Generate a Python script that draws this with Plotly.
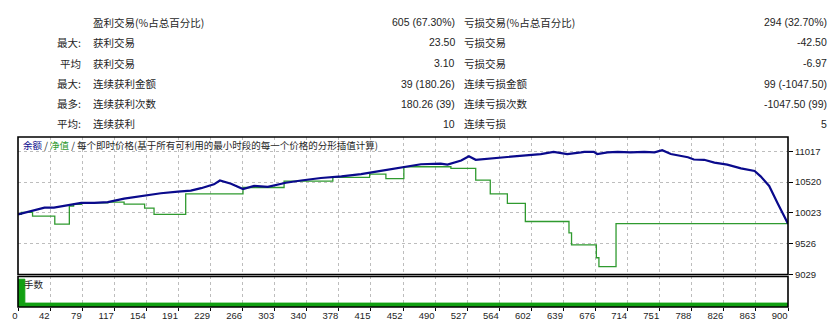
import plotly.graph_objects as go

# ---------------- data ----------------
balance_trades = [0, 19, 31, 42, 54, 65, 74, 89, 105, 124, 147, 167, 187, 202, 214, 229, 236,
                  249, 263, 276, 292, 313, 331, 354, 378, 401, 424, 448, 471, 494, 502, 518, 527,
                  535, 549, 568, 588, 611, 626, 642, 658, 662, 673, 677, 689, 701, 716, 732, 744,
                  753, 763, 783, 790, 802, 814, 829, 845, 861, 868, 878, 888, 900]
balance_values = [10000, 10074, 10109, 10109, 10135, 10160, 10186, 10186, 10197, 10253, 10305, 10340,
                  10367, 10382, 10422, 10484, 10546, 10495, 10407, 10459, 10444, 10510, 10546, 10587,
                  10613, 10649, 10700, 10752, 10808, 10819, 10803, 10869, 10937, 10880, 10896, 10922,
                  10947, 10973, 11009, 10973, 10999, 11009, 11009, 10973, 10999, 11009, 10999, 11009,
                  10999, 11035, 10973, 10922, 10885, 10880, 10834, 10803, 10742, 10700, 10613, 10459,
                  10176, 9848]

equity_trades = [0, 4, 17, 43, 60, 65, 74, 89, 105, 124, 148, 159, 196, 263, 311, 368, 411, 430,
                 451, 506, 535, 552, 572, 593, 644, 647, 676, 679, 699, 900]
equity_values = [10000, 10032, 9970, 9842, 10135, 10160, 10186, 10186, 10197, 10165, 10100, 10000,
                 10330, 10433, 10536, 10598, 10649, 10577, 10768, 10742, 10552, 10330, 10176, 9885,
                 9700, 9507, 9300, 9157, 9850, 9850]

# lot-size blocks: start trade, end trade, lot size
lot_starts = [0, 8]
lot_ends = [8, 900]
lot_sizes = [1.0, 0.14]

x_tick_labels = ["0", "42", "79", "117", "154", "191", "229", "266", "303", "340", "378", "415",
                 "452", "490", "527", "564", "602", "639", "676", "714", "751", "788", "826",
                 "863", "900"]
y_tick_values = [9029, 9526, 10023, 10520, 11017]

row_prefixes = ["", "最大:", "平均", "最大:", "最多:", "平均:"]
win_labels = ["盈利交易(%占总百分比)", "获利交易", "获利交易", "连续获利金额", "连续获利次数", "连续获利"]
win_values = ["605 (67.30%)", "23.50", "3.10", "39 (180.26)", "180.26 (39)", "10"]
loss_labels = ["亏损交易(%占总百分比)", "亏损交易", "亏损交易", "连续亏损金额", "连续亏损次数", "连续亏损"]
loss_values = ["294 (32.70%)", "-42.50", "-6.97", "99 (-1047.50)", "-1047.50 (99)", "5"]

chart_title_parts = ["余额", "净值", "每个即时价格(基于所有可利用的最小时段的每一个价格的分形插值计算)"]
volume_label = "手数"

# ---------------- layout geometry (pixels) ----------------
W, H = 840, 333
PL, PR, PT, PB = 17, 788, 137, 315     # plot area
MAIN_BOTTOM = 281
VOL_TOP = 283
N_TRADES = 900
N_GRID = len(x_tick_labels) - 1

def fx(px):
    return (px - PL) / (PR - PL)

def fy(py):
    return (PB - py) / (PB - PT)

BAL_COLOR = "#0a0a8c"
EQ_COLOR = "#2f9a2f"
LOT_COLOR = "#12a012"
TEXT = "#1e1e1e"
CJK = "Noto Sans CJK SC"
NUM = "Liberation Sans, Noto Sans CJK SC"
GRID = "#bdbdbd"

fig = go.Figure()

fig.add_trace(go.Scatter(x=equity_trades, y=equity_values, mode="lines",
                         line=dict(color=EQ_COLOR, width=1.3, shape="hv"),
                         xaxis="x2", yaxis="y2", hoverinfo="skip"))
fig.add_trace(go.Scatter(x=balance_trades, y=balance_values, mode="lines",
                         line=dict(color=BAL_COLOR, width=2.2),
                         xaxis="x2", yaxis="y2", hoverinfo="skip"))
# lot blocks drawn as filled rectangles through the lot axis
for a, b, v in zip(lot_starts, lot_ends, lot_sizes):
    fig.add_trace(go.Scatter(x=[a, a, b, b, a], y=[0, v, v, 0, 0], mode="lines",
                             fill="toself", fillcolor=LOT_COLOR,
                             line=dict(color=LOT_COLOR, width=1),
                             xaxis="x", yaxis="y", hoverinfo="skip"))

tickvals = [i * N_TRADES / N_GRID for i in range(N_GRID + 1)]

main_dom = [fy(MAIN_BOTTOM), 1.0]
vol_dom = [0.0, fy(VOL_TOP)]

fig.update_layout(
    width=W, height=H,
    margin=dict(l=PL, r=W - PR, t=PT, b=H - PB, pad=0),
    paper_bgcolor="white", plot_bgcolor="white",
    showlegend=False,
    xaxis=dict(domain=[0, 1], anchor="y", range=[0, N_TRADES],
               tickvals=tickvals, ticktext=x_tick_labels,
               ticks="outside", ticklen=3, tickcolor="#000", tickwidth=1,
               ticklabelposition="outside left",
               tickfont=dict(family=NUM, size=9.5, color=TEXT),
               showgrid=True, gridcolor=GRID, griddash="3px,3px", gridwidth=1,
               zeroline=False, showline=False),
    xaxis2=dict(domain=[0, 1], anchor="y2", range=[0, N_TRADES], matches="x",
                tickvals=tickvals, showticklabels=False, ticks="",
                showgrid=True, gridcolor=GRID, griddash="3px,3px", gridwidth=1,
                zeroline=False, showline=False),
    yaxis=dict(domain=vol_dom, anchor="x", range=[0, 1.1],
               showticklabels=False, showgrid=False, zeroline=False, ticks=""),
    yaxis2=dict(domain=main_dom, anchor="x2", range=[9029, 11248], side="right",
                tickvals=y_tick_values, ticktext=[str(v) for v in y_tick_values],
                ticks="outside", ticklen=4, tickcolor="#000",
                tickfont=dict(family=NUM, size=9.5, color=TEXT),
                showgrid=True, gridcolor=GRID, griddash="3px,3px", gridwidth=1,
                zeroline=False, showline=False),
)

# panel borders
fig.add_shape(type="rect", xref="paper", yref="paper", x0=0, x1=1, y0=main_dom[0], y1=main_dom[1],
              line=dict(color="#000", width=1.6), layer="above")
fig.add_shape(type="rect", xref="paper", yref="paper", x0=0, x1=1, y0=vol_dom[0], y1=vol_dom[1],
              line=dict(color="#000", width=1.6), layer="above")

# statistics table
row_y = [17, 38, 60, 81, 102, 123]
for i in range(len(row_y)):
    y = fy(row_y[i])
    if row_prefixes[i]:
        fig.add_annotation(x=fx(82), y=y, xref="paper", yref="paper", text=row_prefixes[i],
                           showarrow=False, xanchor="right", yanchor="middle",
                           font=dict(family=CJK, size=10.5, color=TEXT))
    fig.add_annotation(x=fx(90), y=y, xref="paper", yref="paper", text=win_labels[i],
                       showarrow=False, xanchor="left", yanchor="middle",
                       font=dict(family=CJK, size=10.5, color=TEXT))
    fig.add_annotation(x=fx(457), y=y, xref="paper", yref="paper", text=win_values[i],
                       showarrow=False, xanchor="right", yanchor="middle",
                       font=dict(family=NUM, size=10.5, color=TEXT))
    fig.add_annotation(x=fx(462), y=y, xref="paper", yref="paper", text=loss_labels[i],
                       showarrow=False, xanchor="left", yanchor="middle",
                       font=dict(family=CJK, size=10.5, color=TEXT))
    fig.add_annotation(x=fx(829), y=y, xref="paper", yref="paper", text=loss_values[i],
                       showarrow=False, xanchor="right", yanchor="middle",
                       font=dict(family=NUM, size=10.5, color=TEXT))

# chart caption
caption = (f'<span style="color:{BAL_COLOR}">{chart_title_parts[0]}</span> / '
           f'<span style="color:{EQ_COLOR}">{chart_title_parts[1]}</span> / '
           f'{chart_title_parts[2]}')
fig.add_annotation(x=fx(20), y=fy(145), xref="paper", yref="paper", text=caption,
                   showarrow=False, xanchor="left", yanchor="middle",
                   font=dict(family=CJK, size=9.5, color=TEXT))
fig.add_annotation(x=fx(21), y=fy(291), xref="paper", yref="paper", text=volume_label,
                   showarrow=False, xanchor="left", yanchor="middle",
                   font=dict(family=CJK, size=9.5, color=TEXT))

fig.write_html("out.html")
